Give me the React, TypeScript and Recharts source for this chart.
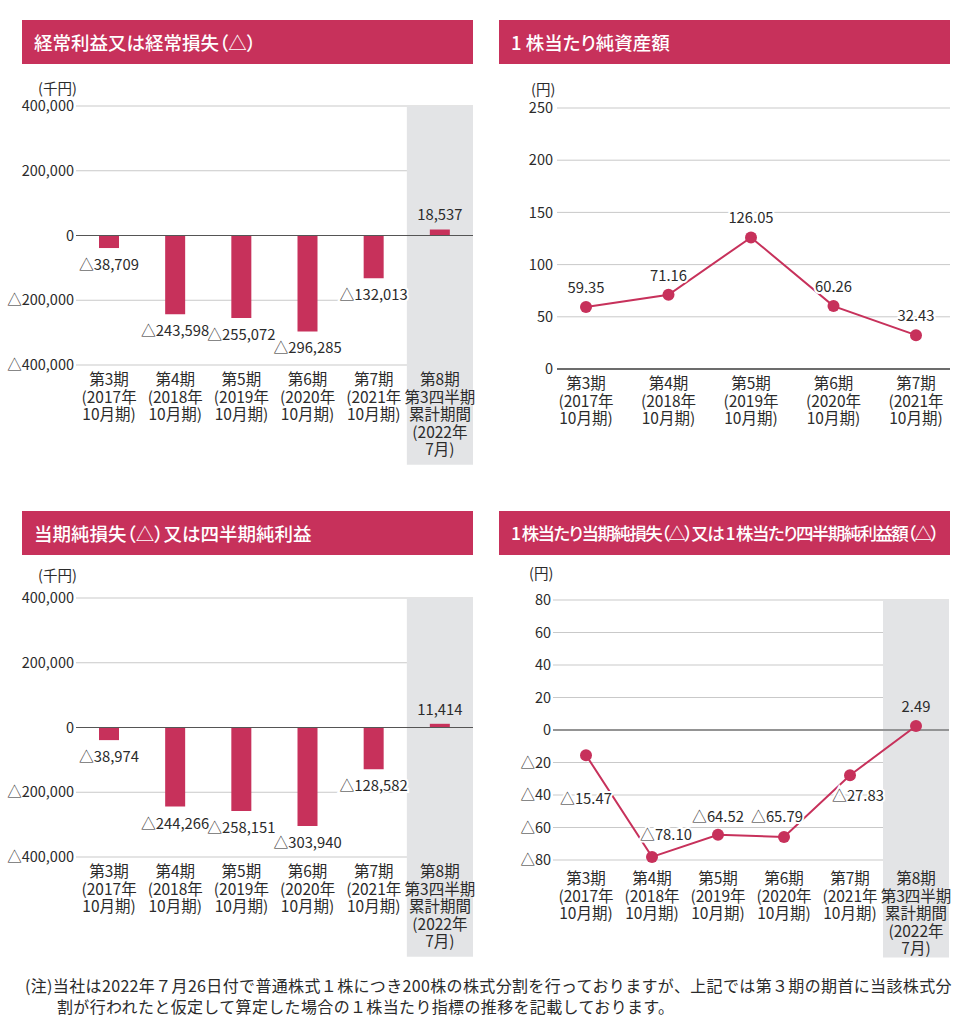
import React from 'react';
import {
  BarChart, Bar, LineChart, Line, XAxis, YAxis, CartesianGrid,
  ReferenceLine, ReferenceArea, LabelList,
} from 'recharts';

// 期の区分（改行で複数行表示）
const periods = [
  '第3期\n(2017年\n10月期)',
  '第4期\n(2018年\n10月期)',
  '第5期\n(2019年\n10月期)',
  '第6期\n(2020年\n10月期)',
  '第7期\n(2021年\n10月期)',
  '第8期\n第3四半期\n累計期間\n(2022年\n7月)',
];

// 経常利益又は経常損失（千円）
const ordinaryProfit = [-38709, -243598, -255072, -296285, -132013, 18537];
// 当期純損失又は四半期純利益（千円）
const netProfit = [-38974, -244266, -258151, -303940, -128582, 11414];
// 1株当たり純資産額（円） 第3期〜第7期
const bookValuePerShare = [59.35, 71.16, 126.05, 60.26, 32.43];
// 1株当たり当期純損失又は四半期純利益額（円）
const earningsPerShare = [-15.47, -78.1, -64.52, -65.79, -27.83, 2.49];

const thousandTicks = [-400000, -200000, 0, 200000, 400000];
const bpsTicks = [0, 50, 100, 150, 200, 250];
const epsTicks = [-80, -60, -40, -20, 0, 20, 40, 60, 80];

const RED = '#c7315b';
const SHADE = '#e3e4e6';
const GRID = '#c9c9c9';
const TEXT = '#2b2b2b';
const NARROW = "'Liberation Sans Narrow', 'Noto Sans CJK JP', sans-serif";
const JP = "'Noto Sans CJK JP', sans-serif";

const tri = (v: number, s: string) => (v < 0 ? '△' + s : s);
const fmtThousand = (v: number) => tri(v, Math.abs(v).toLocaleString('en-US'));
const fmtYen = (v: number) => tri(v, String(Math.abs(v)));
const fmtYen2 = (v: number) => tri(v, Math.abs(v).toFixed(2));

const ordinaryData = periods.map((p, i) => ({ period: p, value: ordinaryProfit[i] }));
const netData = periods.map((p, i) => ({ period: p, value: netProfit[i] }));
const bpsData = periods.slice(0, 5).map((p, i) => ({ period: p, value: bookValuePerShare[i] }));
const epsData = periods.map((p, i) => ({ period: p, value: earningsPerShare[i] }));

// ラベル位置の微調整（点からのずれ）
const epsLabelOffsets = [[0, 44], [14, -22], [0, -18], [-7, -20], [8, 21], [0, -19]];

const PeriodTick = (props: any) => {
  const { x, y, payload, first } = props;
  const lines = String(payload.value).split('\n');
  return (
    <text x={x} y={y} textAnchor="middle" fontSize={15.5} fill={TEXT} fontFamily={JP}>
      {lines.map((l, i) => (
        <tspan key={i} x={x} dy={i === 0 ? first : 17.5}>{l}</tspan>
      ))}
    </text>
  );
};

const haloText = (x: number, y: number, text: string, last: boolean) => (
  <text
    x={x} y={y} textAnchor="middle" fontSize={14.8} fill={TEXT} fontFamily={NARROW}
    stroke={last ? SHADE : '#fff'} strokeWidth={4} paintOrder="stroke"
  >
    {text}
  </text>
);

const makeBarLabel = (count: number) => (props: any) => {
  const { x, y, width, height, value, index } = props;
  const top = Math.min(y, y + height);
  const bottom = Math.max(y, y + height);
  const cx = x + width / 2;
  const ty = value < 0 ? bottom + 22 : top - 9;
  return haloText(cx, ty, fmtThousand(value), index === count - 1);
};

const bpsLabel = (props: any) => {
  const { x, y, value } = props;
  return haloText(x, y - 14, fmtYen2(value), false);
};

const epsLabel = (props: any) => {
  const { x, y, value, index } = props;
  const [dx, dy] = epsLabelOffsets[index];
  return haloText(x + dx, y + dy + 5, fmtYen2(value), index === earningsPerShare.length - 1);
};

const Header = ({ left, top, children, size = 18.5, spacing = 0 }: any) => (
  <div
    style={{
      position: 'absolute', left, top, width: 451, height: 44, background: RED,
      color: '#fff', fontFamily: JP, fontSize: size, fontWeight: 500,
      lineHeight: '44px', paddingLeft: 12, boxSizing: 'border-box',
      letterSpacing: spacing, whiteSpace: 'nowrap', fontFeatureSettings: '"palt"',
    }}
  >
    {children}
  </div>
);

const Unit = ({ left, top, children }: any) => (
  <div style={{ position: 'absolute', left, top, fontFamily: JP, fontSize: 14.5, color: TEXT, lineHeight: '18px' }}>
    {children}
  </div>
);

const yTick = { fontSize: 14.5, fill: TEXT, fontFamily: NARROW };

const ProfitBars = ({ data, top, headerTop, title, unitTop, marginTop, axisHeight }: any) => (
  <>
    <Header left={22} top={headerTop}>{title}</Header>
    <Unit left={38} top={unitTop}>(千円)</Unit>
    <div style={{ position: 'absolute', left: 0, top }}>
      <BarChart width={480} height={400} data={data} margin={{ top: marginTop, right: 7, left: 0, bottom: 0 }}>
        <ReferenceArea
          x1={periods[5]} x2={periods[5]} y1={400000} y2={-708000}
          fill={SHADE} fillOpacity={1} stroke="none" ifOverflow="visible"
        />
        <CartesianGrid vertical={false} stroke={GRID} />
        <XAxis
          dataKey="period" interval={0} axisLine={false} tickLine={false} tickSize={0}
          height={axisHeight} tick={(p: any) => <PeriodTick {...p} first={18} />}
        />
        <YAxis
          width={76} domain={[-400000, 400000]} ticks={thousandTicks} tickFormatter={fmtThousand}
          axisLine={false} tickLine={false} tickSize={0} tickMargin={2} tick={yTick}
        />
        <ReferenceLine y={0} stroke="#555" strokeWidth={1.2} />
        <Bar dataKey="value" fill={RED} barSize={20} isAnimationActive={false}>
          <LabelList dataKey="value" content={makeBarLabel(data.length)} />
        </Bar>
      </BarChart>
    </div>
  </>
);

export default function App() {
  return (
    <div style={{ position: 'absolute', left: 0, top: 0, width: 965, height: 1024, background: '#fff' }}>
      <ProfitBars
        data={ordinaryData} top={70} headerTop={20} unitTop={79} marginTop={36} axisHeight={105}
        title="経常利益又は経常損失（△）"
      />
      <ProfitBars
        data={netData} top={560} headerTop={511} unitTop={566} marginTop={38} axisHeight={103}
        title="当期純損失（△）又は四半期純利益"
      />

      {/* 1株当たり純資産額 */}
      <Header left={499} top={20}>1 株当たり純資産額</Header>
      <Unit left={531} top={80}>(円)</Unit>
      <div style={{ position: 'absolute', left: 480, top: 70 }}>
        <LineChart width={480} height={380} data={bpsData} margin={{ top: 38, right: 10, left: 0, bottom: 0 }}>
          <CartesianGrid vertical={false} stroke={GRID} />
          <XAxis
            dataKey="period" interval={0} scale="point" padding={{ left: 29, right: 34 }}
            axisLine={false} tickLine={false} tickSize={0} height={81}
            tick={(p: any) => <PeriodTick {...p} first={18} />}
          />
          <YAxis
            width={77} domain={[0, 250]} ticks={bpsTicks} axisLine={false} tickLine={false}
            tickSize={0} tickMargin={4} tick={yTick}
          />
          <ReferenceLine y={0} stroke="#444" strokeWidth={1.5} />
          <Line
            dataKey="value" stroke={RED} strokeWidth={2} isAnimationActive={false}
            dot={{ r: 6, fill: RED, stroke: RED, strokeWidth: 0 }} activeDot={false}
          >
            <LabelList dataKey="value" content={bpsLabel} />
          </Line>
        </LineChart>
      </div>

      {/* 1株当たり当期純損失又は四半期純利益額 */}
      <Header left={499} top={511} size={17.5} spacing={-1.6}>
        1 株当たり当期純損失（△）又は 1 株当たり四半期純利益額（△）
      </Header>
      <Unit left={529} top={564}>(円)</Unit>
      <div style={{ position: 'absolute', left: 480, top: 560 }}>
        <LineChart width={480} height={400} data={epsData} margin={{ top: 40, right: 11, left: 0, bottom: 0 }}>
          <ReferenceArea
            x1={periods[5]} x2={periods[5]} y1={80} y2={-140}
            fill={SHADE} fillOpacity={1} stroke="none" ifOverflow="visible"
          />
          <CartesianGrid vertical={false} stroke={GRID} />
          <XAxis
            dataKey="period" interval={0} scale="band" axisLine={false} tickLine={false}
            tickSize={0} height={100} tick={(p: any) => <PeriodTick {...p} first={22} />}
          />
          <YAxis
            width={73} domain={[-80, 80]} ticks={epsTicks} tickFormatter={fmtYen}
            axisLine={false} tickLine={false} tickSize={0} tickMargin={2} tick={yTick}
          />
          <ReferenceLine y={0} stroke="#444" strokeWidth={1.2} />
          <Line
            dataKey="value" stroke={RED} strokeWidth={2} isAnimationActive={false}
            dot={{ r: 6, fill: RED, stroke: RED, strokeWidth: 0 }} activeDot={false}
          >
            <LabelList dataKey="value" content={epsLabel} />
          </Line>
        </LineChart>
      </div>

      <div style={{ position: 'absolute', left: 25, top: 975, fontFamily: JP, fontSize: 16, color: TEXT, lineHeight: '21px', whiteSpace: 'nowrap', letterSpacing: 0.35 }}>
        <div>(注)当社は2022年７月26日付で普通株式１株につき200株の株式分割を行っておりますが、上記では第３期の期首に当該株式分</div>
        <div style={{ paddingLeft: 32 }}>割が行われたと仮定して算定した場合の１株当たり指標の推移を記載しております。</div>
      </div>
    </div>
  );
}
